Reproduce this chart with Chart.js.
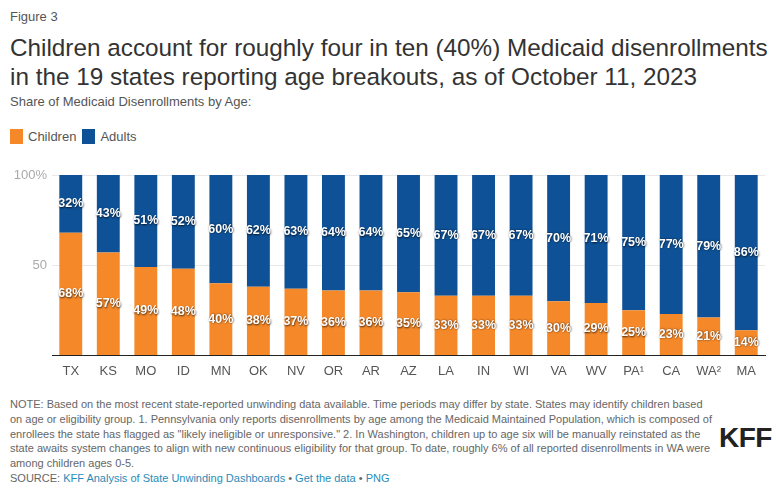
<!DOCTYPE html>
<html>
<head>
<meta charset="utf-8">
<script src="https://cdn.jsdelivr.net/npm/chart.js@4.4.0/dist/chart.umd.min.js"></script>
<style>
    body { margin: 0; background: #fff; font-family: "Liberation Sans", Arial, sans-serif; }
    #wrap { position: relative; width: 776px; height: 490px; overflow: hidden; }
    .fig { position: absolute; left: 10px; top: 9px; font-size: 13px; color: #555; }
    .title { position: absolute; left: 10px; top: 33px; font-size: 24.3px; line-height: 29px; color: #333; }
    .sub { position: absolute; left: 10px; top: 94px; font-size: 13px; color: #555; }
    .legend { position: absolute; left: 10px; top: 129px; font-size: 13px; color: #555; }
    .legend span.sw { display: inline-block; width: 13px; height: 15px; vertical-align: -3px; margin-right: 5px; }
    .legend span.item { margin-right: 6px; }
    #chartBox { position: absolute; left: 0; top: 160px; width: 776px; height: 227px; }
    .note { position: absolute; left: 10px; top: 397px; font-size: 11px; line-height: 14.8px; color: #666; white-space: nowrap; }
    .note a { color: #2a8bb8; text-decoration: none; }
    .kff { position: absolute; left: 719px; top: 422px; font-size: 28px; font-weight: bold; color: #222; letter-spacing: -0.5px; }
</style>
</head>
<body>
<div id="wrap">
    <div class="fig">Figure 3</div>
    <div class="title">Children account for roughly four in ten (40%) Medicaid disenrollments<br>in the 19 states reporting age breakouts, as of October 11, 2023</div>
    <div class="sub">Share of Medicaid Disenrollments by Age:</div>
    <div class="legend"><span class="item"><span class="sw" style="background:#f5892a"></span>Children</span><span class="item"><span class="sw" style="background:#0e5196"></span>Adults</span></div>
    <div id="chartBox"><canvas id="chart"></canvas></div>
    <div class="note">NOTE: Based on the most recent state-reported unwinding data available. Time periods may differ by state. States may identify children based<br>on age or eligibility group. 1. Pennsylvania only reports disenrollments by age among the Medicaid Maintained Population, which is composed of<br>enrollees the state has flagged as "likely ineligible or unresponsive." 2. In Washington, children up to age six will be manually reinstated as the<br>state awaits system changes to align with new continuous eligibility for that group. To date, roughly 6% of all reported disenrollments in WA were<br>among children ages 0-5.<br>SOURCE: <a>KFF Analysis of State Unwinding Dashboards</a> • <a>Get the data</a> • <a>PNG</a></div>
    <div class="kff">KFF</div>
</div>
<script>
    // Data
    const states = ['TX', 'KS', 'MO', 'ID', 'MN', 'OK', 'NV', 'OR', 'AR', 'AZ', 'LA', 'IN', 'WI', 'VA', 'WV', 'PA¹', 'CA', 'WA²', 'MA'];
    const children = [68, 57, 49, 48, 40, 38, 37, 36, 36, 35, 33, 33, 33, 30, 29, 25, 23, 21, 14];
    const adults = [32, 43, 51, 52, 60, 62, 63, 64, 64, 65, 67, 67, 67, 70, 71, 75, 77, 79, 86];

    // Bar value labels
    const valueLabels = {
        id: 'valueLabels',
        afterDatasetsDraw(chart) {
            const ctx = chart.ctx;
            ctx.save();
            ctx.font = 'bold 12.5px "Liberation Sans", Arial, sans-serif';
            ctx.textAlign = 'center';
            ctx.textBaseline = 'middle';
            ctx.shadowColor = 'rgba(0,0,0,0.75)';
            ctx.shadowBlur = 2;
            ctx.shadowOffsetX = 0.5;
            ctx.shadowOffsetY = 0.5;
            ctx.fillStyle = '#fff';
            chart.data.datasets.forEach((ds, i) => {
                chart.getDatasetMeta(i).data.forEach((bar, j) => {
                    const mid = (bar.y + bar.base) / 2;
                    ctx.fillText(ds.data[j] + '%', bar.x, mid);
                });
            });
            ctx.restore();
        }
    };

    new Chart(document.getElementById('chart'), {
        type: 'bar',
        data: {
            labels: states,
            datasets: [
                { label: 'Children', data: children, backgroundColor: '#f5892a' },
                { label: 'Adults', data: adults, backgroundColor: '#0e5196' }
            ]
        },
        options: {
            responsive: true,
            maintainAspectRatio: false,
            animation: false,
            layout: { padding: { top: 15, right: 11, left: 0, bottom: 8 } },
            datasets: { bar: { categoryPercentage: 1, barPercentage: 0.61 } },
            plugins: { legend: { display: false }, tooltip: { enabled: false } },
            scales: {
                x: {
                    stacked: true,
                    grid: { display: false },
                    border: { color: '#222', width: 1 },
                    ticks: { color: '#555', font: { size: 13, family: '"Liberation Sans", Arial, sans-serif' }, padding: 0, maxRotation: 0 }
                },
                y: {
                    stacked: true,
                    min: 0,
                    max: 100,
                    afterFit(scale) { scale.width = 52; },
                    border: { display: false },
                    grid: { color: '#e8e8e8', drawTicks: false },
                    ticks: {
                        stepSize: 50,
                        padding: 5,
                        color: '#aaa',
                        font: { size: 13, family: '"Liberation Sans", Arial, sans-serif' },
                        callback: v => v === 100 ? '100%' : (v === 0 ? '' : v)
                    }
                }
            }
        },
        plugins: [valueLabels]
    });
</script>
</body>
</html>
